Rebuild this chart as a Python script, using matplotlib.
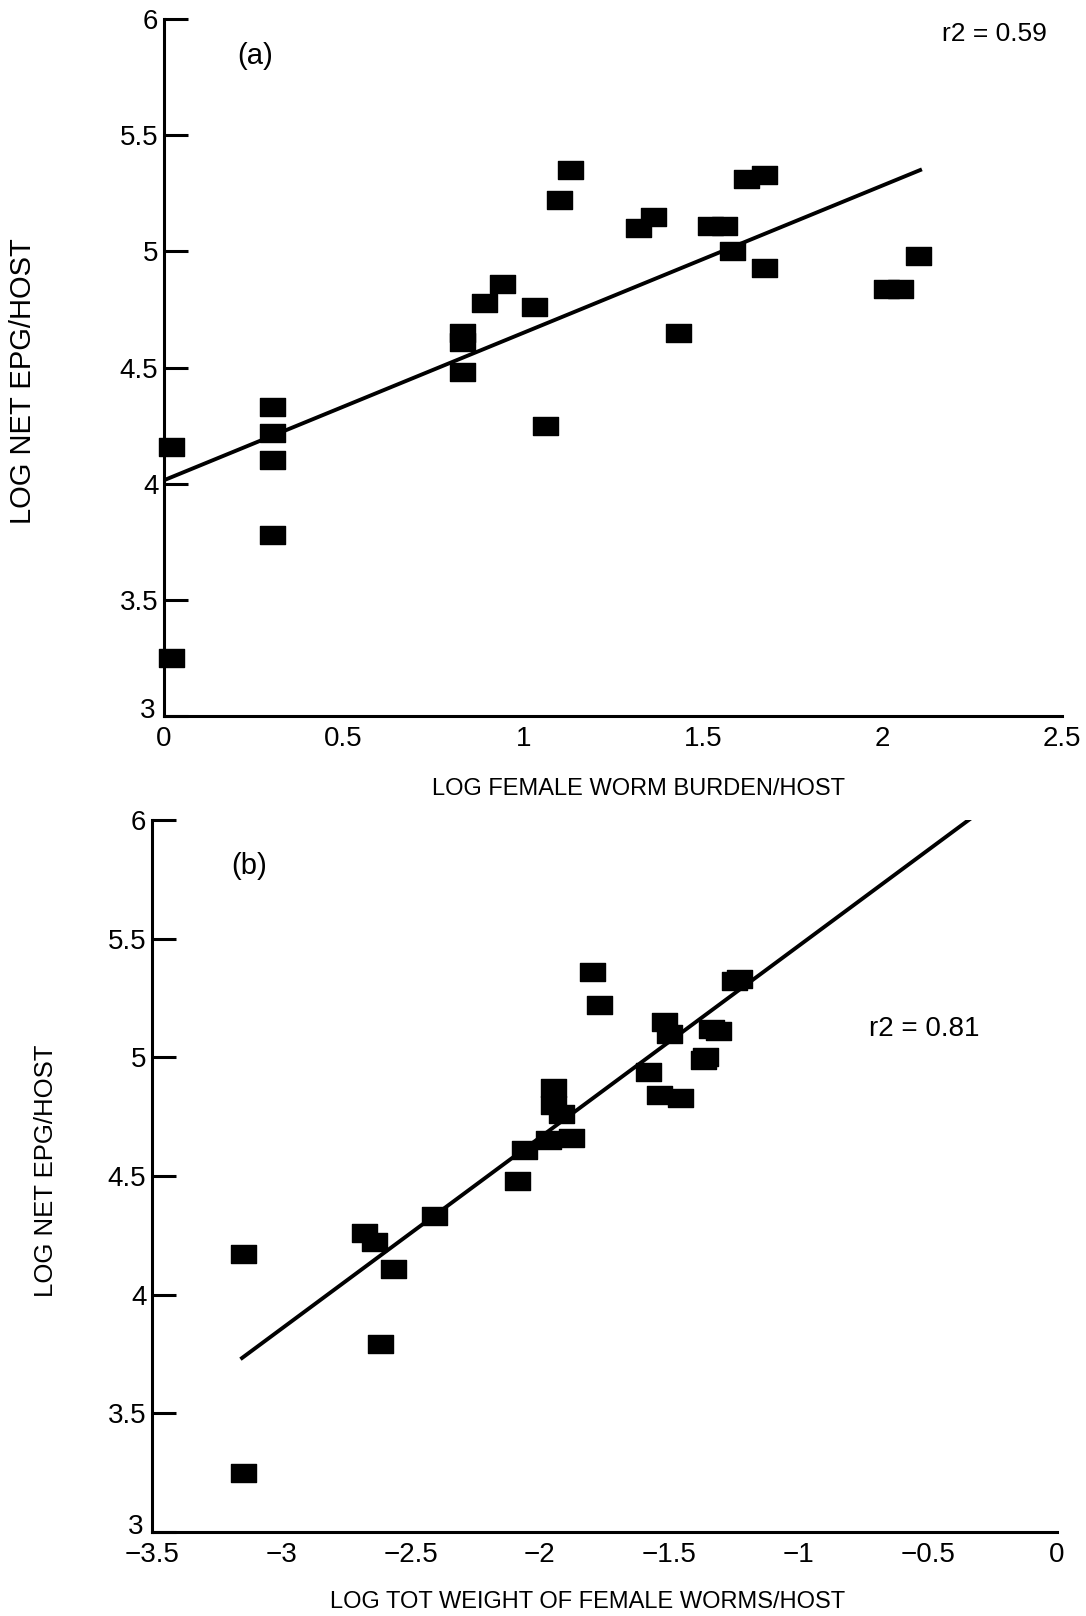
import matplotlib
matplotlib.use("Agg")
import matplotlib.pyplot as plt
from matplotlib.path import Path
from matplotlib.transforms import ScaledTranslation

plt.rcParams['font.family'] = ['Liberation Sans', 'DejaVu Sans']

# ── Data ────────────────────────────────────────────────────────────────────
# (a) log female worm burden vs log net EPG
burden_a = [0.02, 0.02, 0.30, 0.30, 0.30, 0.30, 0.83, 0.83, 0.83, 0.89,
            0.94, 1.03, 1.06, 1.10, 1.13, 1.32, 1.36, 1.43, 1.52, 1.56,
            1.58, 1.62, 1.67, 1.67, 2.01, 2.05, 2.10]
epg_a = [4.16, 3.25, 4.33, 4.22, 4.10, 3.78, 4.65, 4.61, 4.48, 4.78,
         4.86, 4.76, 4.25, 5.22, 5.35, 5.10, 5.15, 4.65, 5.11, 5.11,
         5.00, 5.31, 5.33, 4.93, 4.84, 4.84, 4.98]

# (b) log total weight of female worms vs log net EPG
weight_b = [-3.15, -3.15, -2.41, -2.64, -2.57, -2.62, -1.97, -2.06, -2.09, -1.95,
            -1.95, -1.92, -2.68, -1.77, -1.80, -1.50, -1.52, -1.88, -1.34, -1.31,
            -1.37, -1.25, -1.23, -1.58, -1.54, -1.46, -1.36]
epg_b = [4.17, 3.25, 4.33, 4.22, 4.11, 3.79, 4.65, 4.61, 4.48, 4.80,
         4.87, 4.76, 4.26, 5.22, 5.36, 5.10, 5.15, 4.66, 5.12, 5.11,
         4.99, 5.32, 5.33, 4.94, 4.84, 4.83, 5.00]

# regression line end points
fit_a_x = [0.0, 2.105]
fit_a_y = [4.015, 5.35]
fit_b_x = [-3.152, -0.329]
fit_b_y = [3.733, 6.01]

y_ticks = [3, 3.5, 4, 4.5, 5, 5.5, 6]
y_tick_labels = ["3", "3.5", "4", "4.5", "5", "5.5", "6"]
x_ticks_a = [0, 0.5, 1, 1.5, 2, 2.5]
x_tick_labels_a = ["0", "0.5", "1", "1.5", "2", "2.5"]
x_ticks_b = [-3.5, -3, -2.5, -2, -1.5, -1, -0.5, 0]
x_tick_labels_b = ["\u22123.5", "\u22123", "\u22122.5", "\u22122", "\u22121.5",
                   "\u22121", "\u22120.5", "0"]

# flat rectangular marker like the original plotter
rect = Path([(-1, -0.72), (1, -0.72), (1, 0.72), (-1, 0.72), (-1, -0.72)],
            [Path.MOVETO, Path.LINETO, Path.LINETO, Path.LINETO, Path.CLOSEPOLY])

narrow = ['Liberation Sans Narrow', 'Liberation Sans', 'DejaVu Sans']

fig = plt.figure(figsize=(10.86, 16.16), dpi=100)
ax_a = fig.add_axes([0.1510, 0.5569, 0.8269, 0.4313])
ax_b = fig.add_axes([0.1400, 0.0520, 0.8333, 0.4406])


def style(ax, xlim, xticks, xlabels):
    ax.set_xlim(*xlim)
    ax.set_ylim(3, 6)
    for s in ["top", "right"]:
        ax.spines[s].set_visible(False)
    for s in ["left", "bottom"]:
        ax.spines[s].set_linewidth(2.2)
    ax.set_yticks(y_ticks)
    ax.set_yticklabels(y_tick_labels)
    ax.set_xticks(xticks)
    ax.set_xticklabels(xlabels)
    ax.tick_params(axis="y", direction="in", length=17, width=2.2,
                   labelsize=20, pad=4)
    ax.tick_params(axis="x", length=0, labelsize=20, pad=7)
    # lift the bottom "3" a little, as in the original
    lab3 = ax.get_yticklabels()[0]
    lab3.set_transform(lab3.get_transform() +
                       ScaledTranslation(-2 / 72, 6 / 72, fig.dpi_scale_trans))


# ── (a) ─────────────────────────────────────────────────────────────────────
ax_a.plot(burden_a, epg_a, linestyle="none", marker=rect, markersize=18,
          color="black", clip_on=False)
ax_a.plot(fit_a_x, fit_a_y, color="black", linewidth=2.8)
style(ax_a, (0, 2.5), x_ticks_a, x_tick_labels_a)
ax_a.set_xlabel("LOG FEMALE WORM BURDEN/HOST", fontsize=17, family=narrow)
ax_a.xaxis.set_label_coords(0.528, -0.105)
ax_a.xaxis.label.set_va("center")
ax_a.set_ylabel("LOG NET EPG/HOST", fontsize=21, family=narrow)
ax_a.yaxis.set_label_coords(-0.157, 0.481)
ax_a.yaxis.label.set_va("center")
ax_a.text(0.102, 0.947, "(a)", transform=ax_a.transAxes, fontsize=21,
          ha="center", va="center")
ax_a.text(0.925, 0.978, "r2 = 0.59", transform=ax_a.transAxes, fontsize=19,
          ha="center", va="center")

# ── (b) ─────────────────────────────────────────────────────────────────────
ax_b.plot(weight_b, epg_b, linestyle="none", marker=rect, markersize=18,
          color="black", clip_on=False)
ax_b.plot(fit_b_x, fit_b_y, color="black", linewidth=2.8)
style(ax_b, (-3.5, 0), x_ticks_b, x_tick_labels_b)
ax_b.set_xlabel("LOG TOT WEIGHT OF FEMALE WORMS/HOST", fontsize=17, family=narrow)
ax_b.xaxis.set_label_coords(0.481, -0.098)
ax_b.xaxis.label.set_va("center")
ax_b.set_ylabel("LOG NET EPG/HOST", fontsize=18.5, family=narrow)
ax_b.yaxis.set_label_coords(-0.117, 0.508)
ax_b.yaxis.label.set_va("center")
ax_b.text(0.107, 0.935, "(b)", transform=ax_b.transAxes, fontsize=21,
          ha="center", va="center")
ax_b.text(0.853, 0.706, "r2 = 0.81", transform=ax_b.transAxes, fontsize=20,
          ha="center", va="center")

fig.savefig("out.png", dpi=100)
plt.close(fig)
